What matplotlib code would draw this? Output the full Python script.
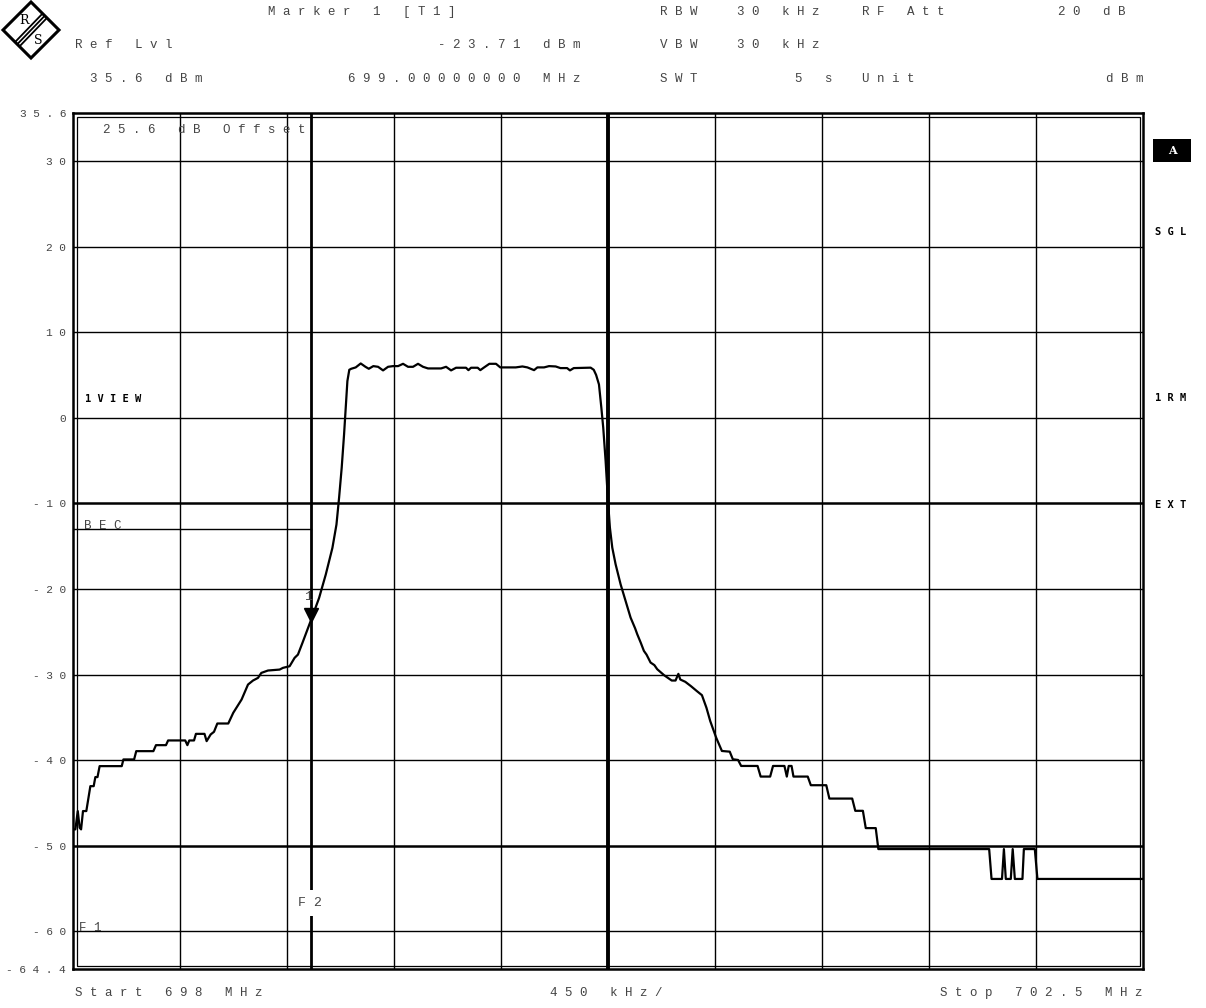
import matplotlib
matplotlib.use('Agg')
import matplotlib.pyplot as plt
import matplotlib.transforms as mtransforms
from matplotlib.patches import Polygon, Rectangle
from matplotlib.lines import Line2D

W, H = 1206, 1008
# plot frame in pixels
PX_L, PX_R, PX_T, PX_B = 73, 1143, 113, 969

# spectrum trace (MHz, dBm)
freq_mhz = [
    698.000, 698.010, 698.020, 698.028, 698.034, 698.042, 698.056, 698.073, 698.087, 698.094,
    698.103, 698.112, 698.205, 698.212, 698.257, 698.266, 698.338, 698.349, 698.391, 698.400,
    698.472, 698.481, 698.489, 698.509, 698.517, 698.553, 698.562, 698.579, 698.593, 698.607,
    698.653, 698.674, 698.709, 698.736, 698.757, 698.778, 698.792, 698.820, 698.869, 698.883,
    698.911, 698.932, 698.946, 698.965, 699.000, 699.035, 699.063, 699.091, 699.108, 699.119,
    699.130, 699.140, 699.147, 699.154, 699.162, 699.170, 699.189, 699.210, 699.230, 699.244,
    699.263, 699.283, 699.304, 699.325, 699.346, 699.367, 699.388, 699.409, 699.430, 699.451,
    699.472, 699.493, 699.548, 699.569, 699.590, 699.611, 699.653, 699.663, 699.674, 699.702,
    699.713, 699.727, 699.751, 699.779, 699.797, 699.862, 699.890, 699.911, 699.939, 699.953,
    699.981, 700.002, 700.030, 700.050, 700.078, 700.090, 700.106, 700.177, 700.190, 700.200,
    700.212, 700.222, 700.230, 700.240, 700.250, 700.258, 700.268, 700.282, 700.303, 700.324,
    700.345, 700.364, 700.373, 700.388, 700.401, 700.412, 700.429, 700.445, 700.457, 700.486,
    700.518, 700.534, 700.546, 700.554, 700.575, 700.599, 700.624, 700.645, 700.664, 700.680,
    700.705, 700.729, 700.762, 700.775, 700.797, 700.810, 700.879, 700.892, 700.932, 700.944,
    700.992, 701.002, 701.010, 701.022, 701.030, 701.090, 701.103, 701.168, 701.181, 701.277,
    701.290, 701.322, 701.334, 701.376, 701.387, 701.853, 701.863, 701.907, 701.915, 701.923,
    701.944, 701.952, 701.961, 701.993, 701.999, 702.045, 702.056, 702.500,
]
level_dbm = [
    -48.09, -48.09, -45.95, -47.90, -48.09, -45.95, -45.95, -43.04, -43.04, -41.98,
    -41.98, -40.70, -40.70, -39.92, -39.92, -38.95, -38.95, -38.25, -38.25, -37.70,
    -37.70, -38.25, -37.70, -37.70, -36.93, -36.93, -37.78, -37.00, -36.69, -35.72,
    -35.72, -34.47, -32.92, -31.17, -30.70, -30.39, -29.81, -29.53, -29.42, -29.22,
    -29.03, -28.05, -27.67, -26.30, -23.71, -21.05, -18.32, -15.20, -12.48, -9.36,
    -5.85, -1.95, 1.17, 4.29, 5.60, 5.72, 5.88, 6.34, 5.95, 5.72,
    6.03, 5.95, 5.53, 5.95, 6.03, 6.03, 6.30, 5.95, 5.95, 6.30,
    5.95, 5.76, 5.76, 5.95, 5.53, 5.84, 5.84, 5.56, 5.84, 5.84,
    5.56, 5.84, 6.30, 6.30, 5.88, 5.88, 5.99, 5.88, 5.56, 5.88,
    5.88, 6.03, 5.99, 5.80, 5.80, 5.53, 5.80, 5.85, 5.60, 5.00,
    3.89, 1.17, -1.17, -5.06, -9.73, -12.84, -15.18, -17.12, -19.46, -21.40,
    -23.35, -24.60, -25.29, -26.30, -27.24, -27.67, -28.60, -28.90, -29.38, -30.08,
    -30.70, -30.70, -29.92, -30.58, -30.85, -31.36, -31.94, -32.41, -33.88, -35.44,
    -37.38, -38.93, -39.01, -39.90, -39.98, -40.68, -40.68, -41.92, -41.92, -40.68,
    -40.68, -41.92, -40.68, -40.68, -41.92, -41.92, -42.93, -42.93, -44.49, -44.49,
    -45.92, -45.92, -47.94, -47.94, -50.39, -50.39, -53.88, -53.88, -50.39, -53.88,
    -53.88, -50.39, -53.88, -53.88, -50.39, -50.39, -53.88, -53.88,
]

start_mhz, stop_mhz, span_div = 698.0, 702.5, 0.45
ref_lvl, bottom_lvl = 35.6, -64.4
grid_levels = [30, 20, 10, 0, -10, -20, -30, -40, -50, -60]
thick_levels = [-10, -50]
marker_freq, marker_level = 699.0, -23.71
f2_freq = 699.0
bec_level = -13.0

# header lines: text, x px, y px, alignment
header_text = ['Marker 1 [T1]', 'RBW', '30 kHz', 'RF Att', '20 dB',
               'Ref Lvl', '-23.71 dBm', 'VBW', '30 kHz',
               '35.6 dBm', '699.00000000 MHz', 'SWT', '5 s', 'Unit', 'dBm']
header_x = [268, 660, 737, 862, 1125,
            75, 580, 660, 737,
            90, 580, 660, 795, 862, 1143]
header_y = [12, 12, 12, 12, 12,
            45, 45, 45, 45,
            79, 79, 79, 79, 79, 79]
header_ha = ['left', 'left', 'left', 'left', 'right',
             'left', 'right', 'left', 'left',
             'left', 'right', 'left', 'left', 'left', 'right']

side_labels = ['SGL', '1RM', 'EXT']
side_y = [232, 398, 505]

MONO = 'Liberation Mono'
GRAY = '#444444'


def sp(s):
    # the analyzer prints its text with wide letter spacing
    return ' '.join(s)


def fx(x):
    return x / W


def fy(y):
    return 1 - y / H


def axp(x, y):
    return ((x - PX_L) / (PX_R - PX_L), (PX_B - y) / (PX_B - PX_T))


fig = plt.figure(figsize=(W / 100, H / 100), dpi=100)
fig.patch.set_facecolor('white')
ax = fig.add_axes([fx(PX_L), fy(PX_B), (PX_R - PX_L) / W, (PX_B - PX_T) / H])
ax.set_xlim(start_mhz, stop_mhz)
ax.set_ylim(bottom_lvl, ref_lvl)

# graticule
for n in range(1, 10):
    ax.axvline(start_mhz + n * span_div, color='black', lw=2.8 if n == 5 else 1.0, zorder=1)
for lv in grid_levels:
    ax.axhline(lv, color='black', lw=1.8 if lv in thick_levels else 1.0, zorder=1)

# F2 frequency line and BEC limit line
ax.axvline(f2_freq, color='black', lw=2.0, zorder=2)
ax.plot([start_mhz, f2_freq], [bec_level, bec_level], color='black', lw=1.0, zorder=2)

# trace
ax.plot(freq_mhz, level_dbm, color='black', lw=1.6, zorder=3)

# marker 1
mk_tr = mtransforms.offset_copy(ax.transData, fig=fig, y=6, units='dots')
ax.plot([marker_freq], [marker_level], marker='v', ms=10, color='black',
        transform=mk_tr, zorder=4)
ax.annotate('1', xy=(marker_freq, marker_level), xytext=(-3, 24),
            textcoords='offset pixels', ha='center', va='center',
            fontsize=9.5, family=MONO, color=GRAY, zorder=5)

# frame: double line
for s in ax.spines.values():
    s.set_linewidth(1.8)
    s.set_zorder(6)
ax.add_patch(Rectangle((3.5 / 1070, 3.5 / 856), 1 - 7 / 1070, 1 - 7 / 856,
                       transform=ax.transAxes, fill=False, lw=0.9,
                       color='black', zorder=6))

# y labels
yt = [ref_lvl] + grid_levels + [bottom_lvl]
ax.set_yticks(yt)
ax.set_yticklabels([sp(f'{v:g}') for v in yt], family=MONO, fontsize=8, color=GRAY)
ax.tick_params(axis='y', length=0, pad=5)
ax.set_xticks([])

# texts inside the screen
ax.text(*axp(103, 130), sp('25.6 dB Offset'), transform=ax.transAxes, ha='left',
        va='center', fontsize=9, family=MONO, color=GRAY, zorder=5)
ax.text(*axp(84, 526), sp('BEC'), transform=ax.transAxes, ha='left', va='center',
        fontsize=9, family=MONO, color=GRAY, zorder=5)
ax.text(*axp(79, 928), sp('F1'), transform=ax.transAxes, ha='left', va='center',
        fontsize=9, family=MONO, color=GRAY, zorder=5)
ax.text(*axp(310, 903), sp('F2'), transform=ax.transAxes, ha='center', va='center',
        fontsize=9.5, family=MONO, color=GRAY, zorder=5,
        bbox=dict(facecolor='white', edgecolor='none', pad=5))
ax.text(*axp(85, 399), sp('1VIEW'), transform=ax.transAxes, ha='left', va='center',
        fontsize=7.5, family='DejaVu Sans Mono', weight='bold', color='black', zorder=5)

# header
for t, x, y, ha in zip(header_text, header_x, header_y, header_ha):
    fig.text(fx(x), fy(y), sp(t), ha=ha, va='center', fontsize=9, family=MONO, color=GRAY)

# footer
fig.text(fx(75), fy(993), sp('Start 698 MHz'), ha='left', va='center',
         fontsize=9, family=MONO, color=GRAY)
fig.text(fx(606), fy(993), sp('450 kHz/'), ha='center', va='center',
         fontsize=9, family=MONO, color=GRAY)
fig.text(fx(1143), fy(993), sp('Stop 702.5 MHz'), ha='right', va='center',
         fontsize=9, family=MONO, color=GRAY)

# right hand status column
fig.patches.append(Rectangle((fx(1153), fy(162)), 38 / W, 23 / H, transform=fig.transFigure,
                             facecolor='black', edgecolor='none'))
fig.text(fx(1172), fy(150), 'A', ha='center', va='center', fontsize=8,
         family='DejaVu Serif', weight='bold', color='white')
for t, y in zip(side_labels, side_y):
    fig.text(fx(1155), fy(y), sp(t), ha='left', va='center', fontsize=7.5,
             family='DejaVu Sans Mono', weight='bold', color='black')

# R&S logo
fig.patches.append(Polygon([(fx(31), fy(2)), (fx(59), fy(30)), (fx(31), fy(58)), (fx(3), fy(30))],
                           closed=True, transform=fig.transFigure, fill=False,
                           edgecolor='black', lw=2.2))
for d in (-2.2, 0, 2.2):
    fig.lines.append(Line2D([fx(17.5 + d), fx(44.5 + d)], [fy(44 + d), fy(16 + d)],
                            transform=fig.transFigure, color='black', lw=1.3))
fig.text(fx(24), fy(20), 'R', ha='center', va='center', fontsize=9,
         family='DejaVu Serif', color='black')
fig.text(fx(38), fy(41), 'S', ha='center', va='center', fontsize=9,
         family='DejaVu Serif', color='black')

fig.savefig('out.png', dpi=100)
